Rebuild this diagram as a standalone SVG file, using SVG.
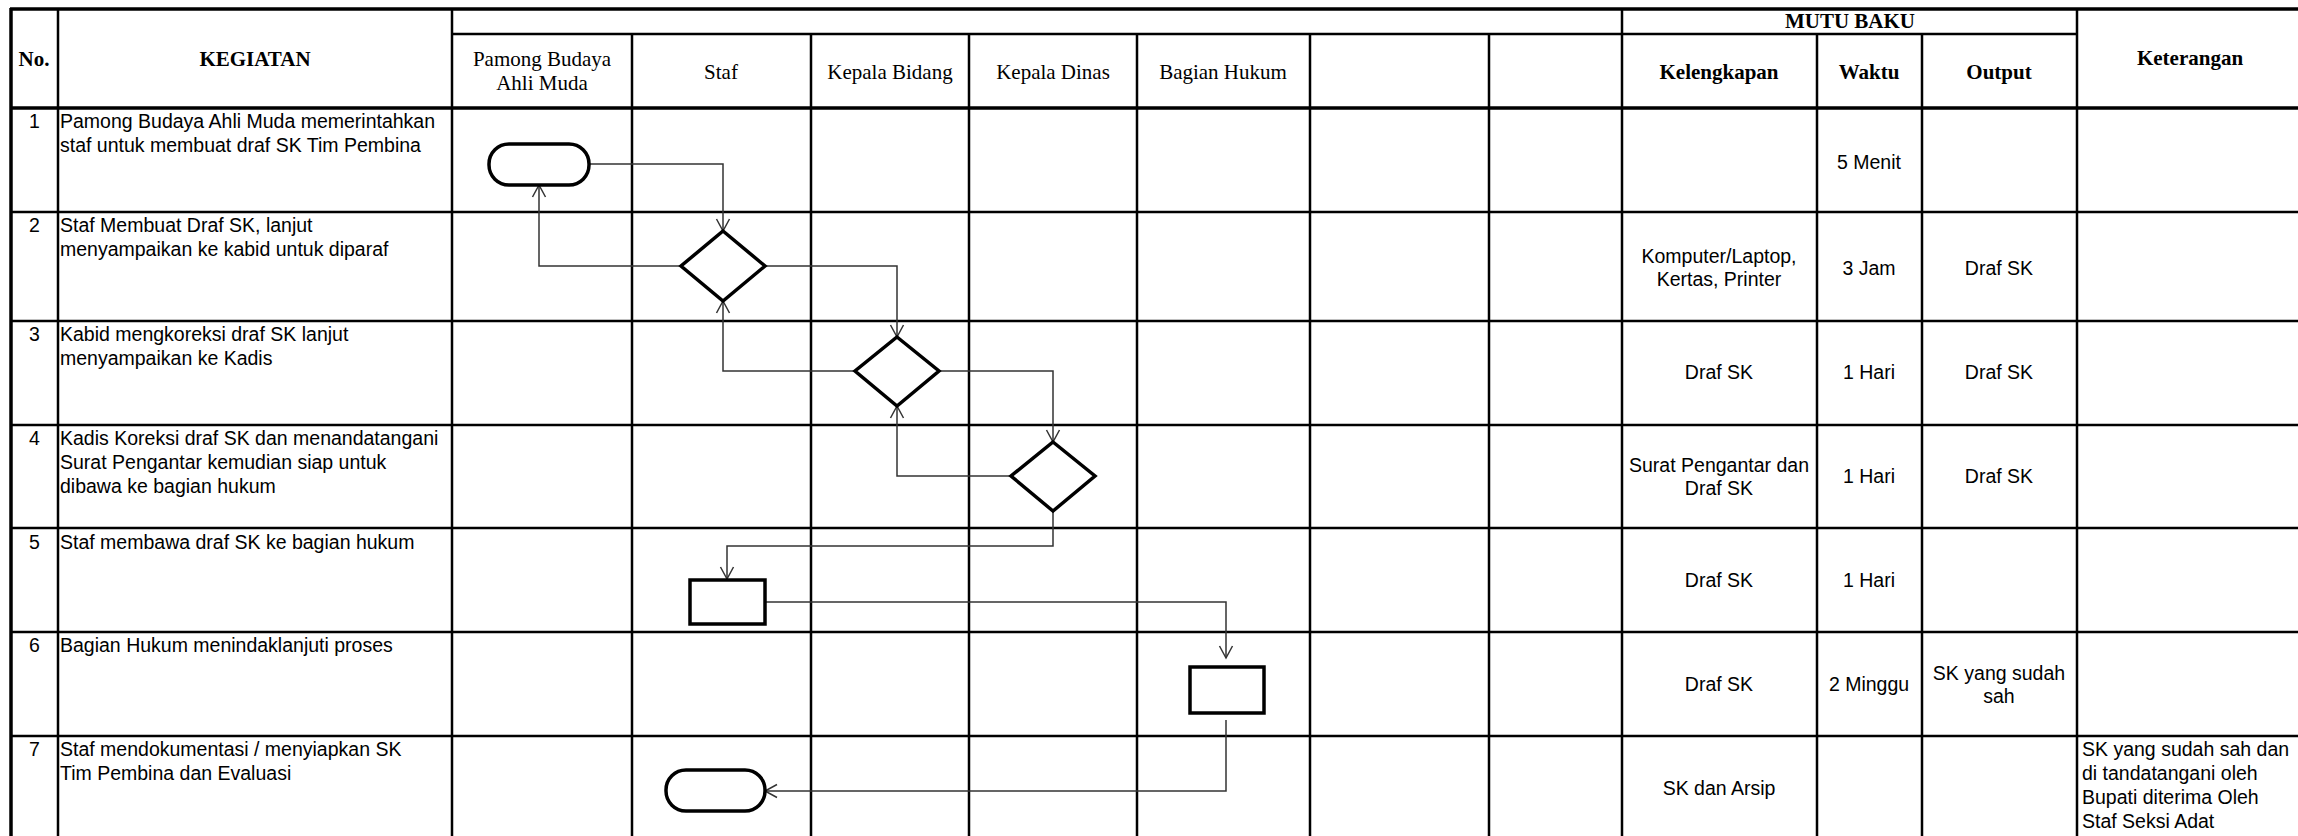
<svg xmlns="http://www.w3.org/2000/svg" width="2298" height="836" viewBox="0 0 2298 836">
<style>
.bg{fill:#ffffff}
.g{stroke:#000;stroke-width:2.5;fill:none}
.gt{stroke:#000;stroke-width:3.5;fill:none}
.hb{font-family:"Liberation Serif","Times New Roman",serif;font-size:21px;font-weight:bold;fill:#000;text-anchor:middle}
.hl{font-family:"Liberation Serif","Times New Roman",serif;font-size:21px;fill:#000;text-anchor:middle}
.t{font-family:"Liberation Sans",Arial,sans-serif;font-size:19.5px;fill:#000}
.c{text-anchor:middle}
.shape{fill:#fff;stroke:#000;stroke-width:3.5}
.conn{fill:none;stroke:#333;stroke-width:1.5}
</style>
<defs>
<marker id="arr" viewBox="-14 -9 16 18" refX="0" refY="0" markerWidth="16" markerHeight="18" markerUnits="userSpaceOnUse" orient="auto">
<path d="M-12,-6.5 L0,0 L-12,6.5" fill="none" stroke="#333" stroke-width="1.5"/>
</marker>
</defs>
<rect class="bg" x="0" y="0" width="2298" height="836"/>

<g id="grid">
<line class="gt" x1="10" y1="9" x2="2310" y2="9"/>
<line class="gt" x1="10" y1="108" x2="2310" y2="108"/>
<line class="g" x1="452" y1="34" x2="2077" y2="34"/>
<line class="g" x1="10" y1="212" x2="2310" y2="212"/>
<line class="g" x1="10" y1="321" x2="2310" y2="321"/>
<line class="g" x1="10" y1="425" x2="2310" y2="425"/>
<line class="g" x1="10" y1="528" x2="2310" y2="528"/>
<line class="g" x1="10" y1="632" x2="2310" y2="632"/>
<line class="g" x1="10" y1="736" x2="2310" y2="736"/>
<line class="gt" x1="11" y1="8" x2="11" y2="840"/>
<line class="g" x1="58" y1="8" x2="58" y2="840"/>
<line class="g" x1="452" y1="8" x2="452" y2="840"/>
<line class="g" x1="632" y1="34" x2="632" y2="840"/>
<line class="g" x1="811" y1="34" x2="811" y2="840"/>
<line class="g" x1="969" y1="34" x2="969" y2="840"/>
<line class="g" x1="1137" y1="34" x2="1137" y2="840"/>
<line class="g" x1="1310" y1="34" x2="1310" y2="840"/>
<line class="g" x1="1489" y1="34" x2="1489" y2="840"/>
<line class="g" x1="1622" y1="8" x2="1622" y2="840"/>
<line class="g" x1="1817" y1="34" x2="1817" y2="840"/>
<line class="g" x1="1922" y1="34" x2="1922" y2="840"/>
<line class="g" x1="2077" y1="8" x2="2077" y2="840"/>
</g>

<g id="header">
<text class="hb" x="34" y="66">No.</text>
<text class="hb" x="255" y="66">KEGIATAN</text>
<text class="hl" x="542" y="66">Pamong Budaya</text>
<text class="hl" x="542" y="90">Ahli Muda</text>
<text class="hl" x="721" y="79">Staf</text>
<text class="hl" x="890" y="79">Kepala Bidang</text>
<text class="hl" x="1053" y="79">Kepala Dinas</text>
<text class="hl" x="1223" y="79">Bagian Hukum</text>
<text class="hb" x="1850" y="28">MUTU BAKU</text>
<text class="hb" x="1719" y="79">Kelengkapan</text>
<text class="hb" x="1869" y="79">Waktu</text>
<text class="hb" x="1999" y="79">Output</text>
<text class="hb" x="2190" y="65">Keterangan</text>
</g>

<g id="rows">
<text class="t c" x="34.5" y="128">1</text>
<text class="t" x="60" y="128">Pamong Budaya Ahli Muda memerintahkan</text>
<text class="t" x="60" y="152">staf untuk membuat draf SK Tim Pembina</text>
<text class="t c" x="1869" y="169">5 Menit</text>

<text class="t c" x="34.5" y="232">2</text>
<text class="t" x="60" y="232">Staf Membuat Draf SK, lanjut</text>
<text class="t" x="60" y="256">menyampaikan ke kabid untuk diparaf</text>
<text class="t c" x="1719" y="263">Komputer/Laptop,</text>
<text class="t c" x="1719" y="286">Kertas, Printer</text>
<text class="t c" x="1869" y="275">3 Jam</text>
<text class="t c" x="1999" y="275">Draf SK</text>

<text class="t c" x="34.5" y="341">3</text>
<text class="t" x="60" y="341">Kabid mengkoreksi draf SK lanjut</text>
<text class="t" x="60" y="365">menyampaikan ke Kadis</text>
<text class="t c" x="1719" y="379">Draf SK</text>
<text class="t c" x="1869" y="379">1 Hari</text>
<text class="t c" x="1999" y="379">Draf SK</text>

<text class="t c" x="34.5" y="445">4</text>
<text class="t" x="60" y="445">Kadis Koreksi draf SK dan menandatangani</text>
<text class="t" x="60" y="469">Surat Pengantar kemudian siap untuk</text>
<text class="t" x="60" y="493">dibawa ke bagian hukum</text>
<text class="t c" x="1719" y="472">Surat Pengantar dan</text>
<text class="t c" x="1719" y="495">Draf SK</text>
<text class="t c" x="1869" y="483">1 Hari</text>
<text class="t c" x="1999" y="483">Draf SK</text>

<text class="t c" x="34.5" y="549">5</text>
<text class="t" x="60" y="549">Staf membawa draf SK ke bagian hukum</text>
<text class="t c" x="1719" y="587">Draf SK</text>
<text class="t c" x="1869" y="587">1 Hari</text>

<text class="t c" x="34.5" y="652">6</text>
<text class="t" x="60" y="652">Bagian Hukum menindaklanjuti proses</text>
<text class="t c" x="1719" y="691">Draf SK</text>
<text class="t c" x="1869" y="691">2 Minggu</text>
<text class="t c" x="1999" y="680">SK yang sudah</text>
<text class="t c" x="1999" y="703">sah</text>

<text class="t c" x="34.5" y="756">7</text>
<text class="t" x="60" y="756">Staf mendokumentasi / menyiapkan SK</text>
<text class="t" x="60" y="780">Tim Pembina dan Evaluasi</text>
<text class="t c" x="1719" y="795">SK dan Arsip</text>
<text class="t" x="2082" y="756">SK yang sudah sah dan</text>
<text class="t" x="2082" y="780">di tandatangani oleh</text>
<text class="t" x="2082" y="804">Bupati diterima Oleh</text>
<text class="t" x="2082" y="828">Staf Seksi Adat</text>
</g>

<g id="connectors">
<path class="conn" d="M589,164 H723 V231" marker-end="url(#arr)"/>
<path class="conn" d="M681,266 H539 V185" marker-end="url(#arr)"/>
<path class="conn" d="M765,266 H897 V337" marker-end="url(#arr)"/>
<path class="conn" d="M855,371 H723 V301" marker-end="url(#arr)"/>
<path class="conn" d="M939,371 H1053 V442" marker-end="url(#arr)"/>
<path class="conn" d="M1011,476 H897 V406" marker-end="url(#arr)"/>
<path class="conn" d="M1053,511 V546 H727 V579" marker-end="url(#arr)"/>
<path class="conn" d="M765,602 H1226 V658" marker-end="url(#arr)"/>
<path class="conn" d="M1226,720 V791 H765" marker-end="url(#arr)"/>
</g>

<g id="n1-start"><rect class="shape" x="489" y="144" width="100" height="41" rx="20" ry="20"/></g>
<g id="n2-staf-decision"><polygon class="shape" points="723,231 765,266 723,301 681,266"/></g>
<g id="n3-kabid-decision"><polygon class="shape" points="897,337 939,371 897,406 855,371"/></g>
<g id="n4-kadis-decision"><polygon class="shape" points="1053,442 1095,476 1053,511 1011,476"/></g>
<g id="n5-staf-process"><rect class="shape" x="690" y="580" width="75" height="44"/></g>
<g id="n6-hukum-process"><rect class="shape" x="1190" y="667" width="74" height="46"/></g>
<g id="n7-end"><rect class="shape" x="666" y="770" width="99" height="41" rx="20" ry="20"/></g>
</svg>
